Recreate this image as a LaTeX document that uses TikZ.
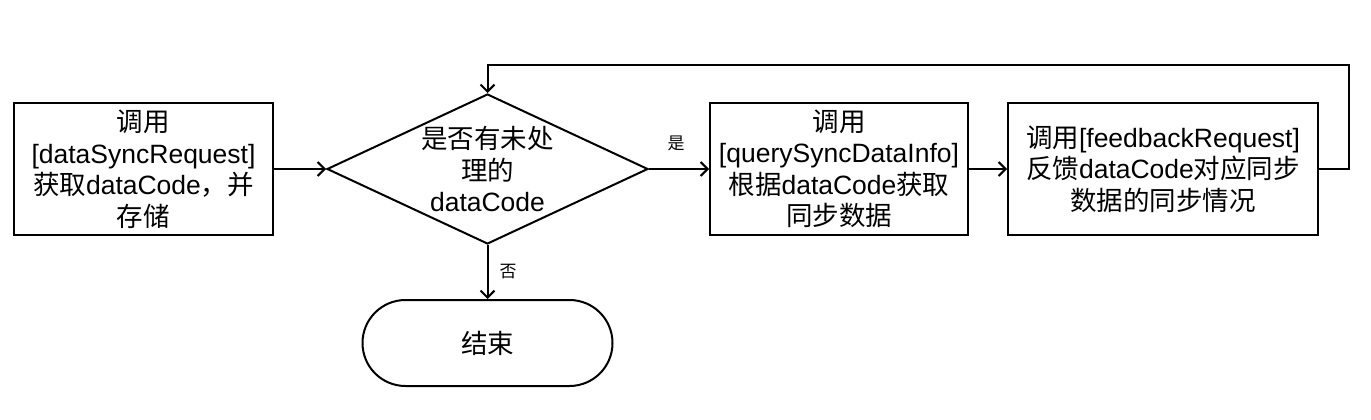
\documentclass[tikz,border=0pt]{standalone}
\usepackage{fontspec}
\setmainfont{Liberation Sans}
\newfontfamily\cjk{Noto Sans CJK SC}
\newcommand{\zh}[1]{{\cjk #1}}
\usetikzlibrary{shapes.geometric,arrows.meta}

\tikzset{
  bigtext/.style={font=\fontsize{26.5}{31.5}\selectfont},
  procbox/.style={draw,line width=2pt,minimum height=132pt,inner sep=0pt,align=center,bigtext},
  decbox/.style={draw,diamond,line width=2pt,aspect=2.14,inner sep=0pt,
    minimum width=321pt,minimum height=150pt,align=center,bigtext},
  endbox/.style={draw,rounded corners=43pt,line width=2pt,minimum width=250pt,
    minimum height=86pt,bigtext},
  flow/.style={line width=2pt,-{Straight Barb[length=7pt,width=14pt]}},
  yesno/.style={font=\fontsize{17}{20}\selectfont}
}

\begin{document}
\begin{tikzpicture}[x=1pt,y=-1pt]
\useasboundingbox (0,0) rectangle (1371,420);

\node[procbox,minimum width=259pt] (fetch) at (143.5,169)
  {\zh{调用}\\{[}dataSyncRequest{]}\\\zh{获取}dataCode\zh{，并}\\\zh{存储}};
\node[decbox] (check) at (487.5,169)
  {\zh{是否有未处}\\\zh{理的}\\dataCode};
\node[procbox,minimum width=258pt] (query) at (839,169)
  {\zh{调用}\\{[}querySyncDataInfo{]}\\\zh{根据}dataCode\zh{获取}\\\zh{同步数据}};
\node[procbox,minimum width=310pt] (feedback) at (1163,169)
  {\zh{调用}{[}feedbackRequest{]}\\\zh{反馈}dataCode\zh{对应同步}\\\zh{数据的同步情况}};
\node[endbox] (finish) at (487.5,343) {\zh{结束}};

% connectors
\draw[flow] (fetch) -- (check);
\draw[flow] (check) -- (query);
\draw[flow] (query) -- (feedback);
\draw[flow] (feedback.east) -| ++(30,-104) -| (check.north);
\draw[flow] (check) -- (finish);

\node[yesno] (yes) at (676,143) {\zh{是}};
\node[yesno] (no) at (508,272) {\zh{否}};
\end{tikzpicture}
\end{document}
